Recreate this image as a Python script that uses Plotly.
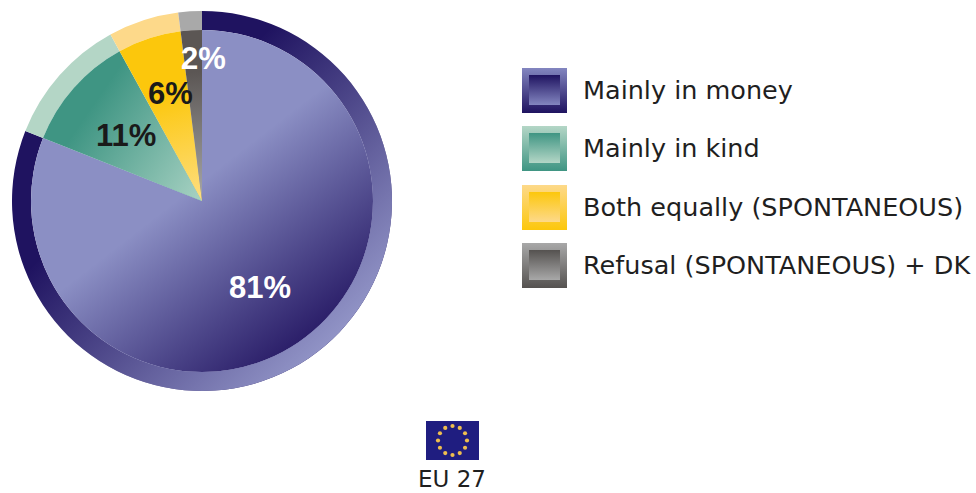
import base64, math
import plotly.graph_objects as go

categories = ["Mainly in money", "Mainly in kind", "Both equally (SPONTANEOUS)", "Refusal (SPONTANEOUS) + DK"]
values = [81, 11, 6, 2]
inner_colors = ["#8b8fc4", "#3f9583", "#fcc70c", "#5b5654"]
ring_colors = ["#1f1360", "#b4d6c6", "#fdd98a", "#a9a9a9"]
label_colors = ["#ffffff", "#1a1a1a", "#1a1a1a", "#ffffff"]
legend_light = ["#8386c0", "#b4d6c6", "#fdd98a", "#a8a8a8"]
legend_dark = ["#1f1360", "#3f9583", "#fcc70c", "#555250"]

W, H = 976, 493
CX, CY, R, RI = 202, 201, 190, 171
LEGEND_Y = [68, 126, 185, 243]


def wedge(a0, a1, r0, r1):
    """SVG path of a clockwise-from-top annular sector."""
    pt = lambda a, r: (CX + r * math.sin(math.radians(a)), CY - r * math.cos(math.radians(a)))
    x0, y0 = pt(a0, r1); x1, y1 = pt(a1, r1); x2, y2 = pt(a1, r0); x3, y3 = pt(a0, r0)
    large = 1 if a1 - a0 > 180 else 0
    return (f"M{x0:.2f},{y0:.2f}A{r1},{r1} 0 {large} 1 {x1:.2f},{y1:.2f}"
            f"L{x2:.2f},{y2:.2f}A{r0},{r0} 0 {large} 0 {x3:.2f},{y3:.2f}Z")


def grad(id_, x1, y1, x2, y2, stops):
    s = "".join(f'<stop offset="{o}" stop-color="{c}" stop-opacity="{a}"/>' for o, c, a in stops)
    return (f'<linearGradient id="{id_}" gradientUnits="userSpaceOnUse" x1="{x1}" y1="{y1}" '
            f'x2="{x2}" y2="{y2}">{s}</linearGradient>')


angles = [0]
for v in values:
    angles.append(angles[-1] + v * 3.6)

defs = [
    grad("mi", 190, 190, 310, 345, [(0, "#1e1160", 0), (1, "#241662", 0.97)]),
    grad("mr", 80, 90, 335, 345, [(0.25, "#9396c8", 0), (1, "#9396c8", 1)]),
    grad("ki", 70, 110, 202, 201, [(0.1, "#a8d2c3", 0), (1, "#a8d2c3", 1)]),
    grad("bi", 150, 50, 195, 201, [(0.3, "#fee08c", 0), (1, "#fee08c", 0.9)]),
    grad("ri", 190, 40, 200, 201, [(0.2, "#a8a8a8", 0), (1, "#a8a8a8", 1)]),
]
body = [
    f'<path d="{wedge(angles[0], angles[1], 0.01, RI)}" fill="url(#mi)"/>',
    f'<path d="{wedge(angles[0], angles[1], RI, R)}" fill="url(#mr)"/>',
    f'<path d="{wedge(angles[1], angles[2], 0.01, RI)}" fill="url(#ki)"/>',
    f'<path d="{wedge(angles[2], angles[3], 0.01, RI)}" fill="url(#bi)"/>',
    f'<path d="{wedge(angles[3], angles[4], 0.01, RI)}" fill="url(#ri)"/>',
]
for i, y in enumerate(LEGEND_Y):
    defs.append(grad(f"lo{i}", 0, y, 0, y + 45, [(0, legend_light[i], 1), (1, legend_dark[i], 1)]))
    defs.append(grad(f"li{i}", 0, y + 7, 0, y + 37, [(0, legend_dark[i], 1), (1, legend_light[i], 1)]))
    body.append(f'<rect x="522" y="{y}" width="45" height="45" fill="url(#lo{i})"/>')
    body.append(f'<rect x="529" y="{y + 7}" width="31" height="30" fill="url(#li{i})"/>')

# EU flag
body.append('<rect x="426" y="421" width="53" height="39" fill="#1f1d80"/>')
for k in range(12):
    a = math.radians(30 * k)
    body.append(f'<circle cx="{452.5 + 14.5 * math.sin(a):.2f}" cy="{440.5 - 14.5 * math.cos(a):.2f}" r="2.1" fill="#efbe4e"/>')

svg = (f'<svg xmlns="http://www.w3.org/2000/svg" width="{W}" height="{H}" viewBox="0 0 {W} {H}">'
       f'<defs>{"".join(defs)}</defs>{"".join(body)}</svg>')
overlay = "data:image/svg+xml;base64," + base64.b64encode(svg.encode()).decode()

fig = go.Figure()
fig.add_trace(go.Pie(
    labels=categories, values=values, sort=False, direction="clockwise", rotation=0,
    hole=RI / R, textinfo="none", showlegend=False, hoverinfo="skip",
    marker=dict(colors=ring_colors, line=dict(width=0)),
    domain=dict(x=[(CX - R) / W, (CX + R) / W], y=[1 - (CY + R) / H, 1 - (CY - R) / H]),
))
fig.add_trace(go.Pie(
    labels=categories, values=values, sort=False, direction="clockwise", rotation=0,
    textinfo="none", showlegend=False, hoverinfo="label+percent",
    marker=dict(colors=inner_colors, line=dict(width=0)),
    domain=dict(x=[(CX - RI) / W, (CX + RI) / W], y=[1 - (CY + RI) / H, 1 - (CY - RI) / H]),
))

annotations = []
label_pos = [(260, 287), (126, 135), (170, 93), (203, 58)]
for v, c, (x, y) in zip(values, label_colors, label_pos):
    annotations.append(dict(x=x / W, y=1 - y / H, xref="paper", yref="paper", text=f"{v}%",
                            showarrow=False, xanchor="center", yanchor="middle",
                            font=dict(family="Liberation Sans", size=31, color=c, weight="bold")))
for name, y in zip(categories, LEGEND_Y):
    annotations.append(dict(x=581 / W, y=1 - (y + 22) / H, xref="paper", yref="paper", text=name,
                            showarrow=False, xanchor="left", yanchor="middle",
                            font=dict(family="DejaVu Sans", size=25.5, color="#1f1f1f")))
annotations.append(dict(x=452 / W, y=1 - 479 / H, xref="paper", yref="paper", text="EU 27",
                        showarrow=False, xanchor="center", yanchor="middle",
                        font=dict(family="DejaVu Sans", size=23, color="#1f1f1f")))

fig.update_layout(
    width=W, height=H, margin=dict(l=0, r=0, t=0, b=0), autosize=False,
    paper_bgcolor="white", plot_bgcolor="white", showlegend=False,
    annotations=annotations,
    images=[dict(source=overlay, xref="paper", yref="paper", x=0, y=1, sizex=1, sizey=1,
                 xanchor="left", yanchor="top", sizing="stretch", layer="above")],
)
fig.write_html("out.html", config=dict(displayModeBar=False),
               post_script="document.body.style.margin='0';")
